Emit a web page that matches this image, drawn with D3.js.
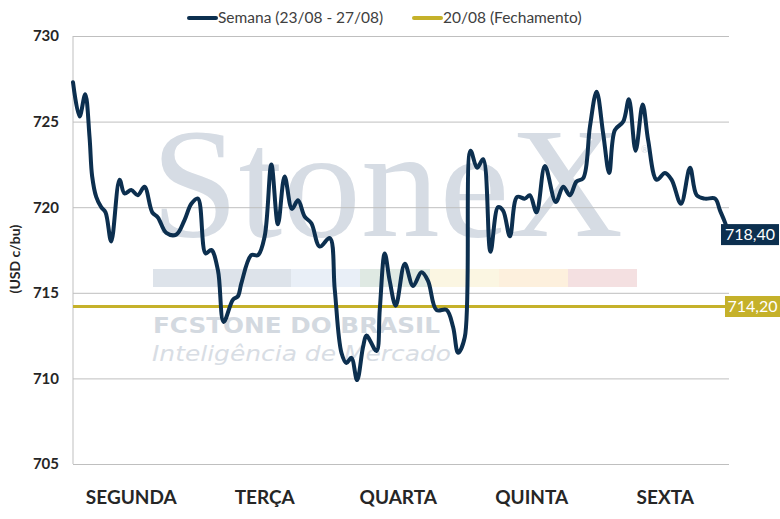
<!DOCTYPE html>
<html>
<head>
<meta charset="utf-8">
<script src="https://cdn.jsdelivr.net/npm/d3@7"></script>
<style>
  body { margin: 0; background: #fff; }
</style>
</head>
<body>
<div id="chart"></div>
<script>
// data (time in days from Monday open, price in USD c/bu)
var days = ["SEGUNDA", "TERÇA", "QUARTA", "QUINTA", "SEXTA"];
var yTicks = [705, 710, 715, 720, 725, 730];
var weekTime = [0.000, 0.050, 0.093, 0.126, 0.146, 0.177, 0.215, 0.248, 0.291, 0.355,
    0.393, 0.444, 0.494, 0.545, 0.604, 0.647, 0.711, 0.787, 0.850, 0.902,
    0.952, 1.011, 1.054, 1.105, 1.148, 1.219, 1.257, 1.283, 1.359, 1.410,
    1.461, 1.512, 1.562, 1.613, 1.669, 1.715, 1.766, 1.817, 1.880, 1.957,
    1.995, 2.046, 2.084, 2.122, 2.165, 2.211, 2.237, 2.313, 2.338, 2.376,
    2.414, 2.460, 2.529, 2.592, 2.656, 2.706, 2.770, 2.847, 2.897, 2.935,
    2.986, 3.030, 3.080, 3.126, 3.182, 3.240, 3.278, 3.330, 3.385, 3.444,
    3.482, 3.533, 3.597, 3.680, 3.736, 3.787, 3.838, 3.889, 3.940, 3.991,
    4.041, 4.087, 4.130, 4.194, 4.237, 4.288, 4.342, 4.384, 4.449, 4.512,
    4.563, 4.634, 4.703, 4.754, 4.817, 4.894, 4.932, 4.970, 5.000];
var weekPrice = [727.3, 725.3, 726.6, 724.1, 721.8, 720.6, 720.0, 719.7, 718.0, 721.6,
    720.8, 721.0, 720.7, 721.2, 719.7, 719.4, 718.5, 718.4, 719.25, 720.2,
    720.5, 717.3, 717.5, 716.3, 713.3, 714.6, 714.8, 715.55, 717.2, 717.2,
    718.3, 722.5, 719.0, 721.8, 719.9, 720.4, 719.45, 719.06, 717.7, 718.2,
    715.2, 711.5, 710.9, 711.2, 709.9, 711.85, 712.5, 711.6, 714.0, 717.3,
    715.7, 714.25, 716.7, 715.4, 716.2, 715.7, 714.0, 714.0, 713.0, 711.5,
    712.4, 723.3, 722.3, 722.8, 717.4, 720.0, 719.8, 718.3, 720.6, 720.5,
    720.7, 719.7, 722.4, 720.3, 721.2, 720.7, 721.5, 721.7, 724.7, 726.75,
    724.3, 722.0, 724.5, 725.0, 726.3, 723.3, 726.0, 723.9, 721.6, 722.0,
    721.6, 720.2, 722.3, 720.7, 720.5, 720.5, 719.8, 719.1, 718.4];
var lastPrice = 718.40;
var closePrice = 714.20;
var seriesNames = ["Semana (23/08 - 27/08)", "20/08 (Fechamento)"];

var svgWidth = 780;
var svgHeight = 519;

var margin = {
    top: 36,
    right: 51,
    bottom: 55,
    left: 73
};

var height = svgHeight - margin.top - margin.bottom;
var width = svgWidth - margin.left - margin.right;

var navy = "#0c2f4f";
var gold = "#c5b12a";
var sans = "Lato, 'Noto Sans', sans-serif";

var svg = d3.select("#chart")
    .append("svg")
    .attr("height", svgHeight)
    .attr("width", svgWidth)
    .style("font-family", sans);

// watermark
var wm = svg.append("g");
wm.append("text")
    .attr("x", 151)
    .attr("y", 236)
    .style("font-family", "'Liberation Serif', 'DejaVu Serif', serif")
    .attr("font-size", 156)
    .attr("fill", "#d6dce4")
    .attr("textLength", 472)
    .attr("lengthAdjust", "spacingAndGlyphs")
    .text("StoneX");
wm.append("text")
    .attr("x", 641)
    .attr("y", 153)
    .attr("font-size", 9)
    .attr("fill", "#d6dce4")
    .text("®");
var stripColors = ["#dde3ea", "#e9eff7", "#dfe9e3", "#fbf6e2", "#fdf0dd", "#f4e0e1"];
var stripX = [153, 291, 360, 430, 499, 568, 637];
wm.selectAll("rect")
    .data(stripColors)
    .enter()
    .append("rect")
    .attr("x", (d, i) => stripX[i])
    .attr("y", 269)
    .attr("width", (d, i) => stripX[i + 1] - stripX[i])
    .attr("height", 18)
    .attr("fill", d => d);
wm.append("text")
    .attr("x", 153)
    .attr("y", 333)
    .style("font-family", "'DejaVu Sans', sans-serif")
    .attr("font-size", 21)
    .attr("font-weight", "bold")
    .attr("fill", "#d3d9e0")
    .attr("textLength", 287)
    .attr("lengthAdjust", "spacingAndGlyphs")
    .text("FCSTONE DO BRASIL");
wm.append("text")
    .attr("x", 152)
    .attr("y", 361)
    .style("font-family", "'DejaVu Sans', sans-serif")
    .attr("font-size", 22)
    .attr("font-style", "italic")
    .attr("font-weight", 300)
    .attr("fill", "#d8dde4")
    .attr("textLength", 299)
    .attr("lengthAdjust", "spacingAndGlyphs")
    .text("Inteligência de Mercado");

var chartGroup = svg.append("g")
    .attr("transform", `translate(${margin.left}, ${margin.top})`);

var xScale = d3.scaleLinear()
    .domain([0, days.length])
    .range([0, width]);

var xBand = d3.scaleBand()
    .domain(days)
    .range([-8.5, width + 3]);

var yScale = d3.scaleLinear()
    .domain([d3.min(yTicks), d3.max(yTicks)])
    .range([height, 0]);

// gridlines
var grid = chartGroup.append("g")
    .call(d3.axisLeft(yScale).tickValues(yTicks).tickSize(-width).tickFormat(""));
grid.select(".domain").remove();
grid.selectAll("line").attr("stroke", "#bfbfbf");

chartGroup.append("line")
    .attr("x1", 0).attr("x2", 0)
    .attr("y1", 0).attr("y2", height)
    .attr("stroke", "#bfbfbf");

// y labels
var leftAxis = chartGroup.append("g")
    .call(d3.axisLeft(yScale).tickValues(yTicks).tickSize(0).tickPadding(14));
leftAxis.select(".domain").remove();
leftAxis.selectAll("text")
    .style("font-family", sans)
    .attr("font-size", 15)
    .attr("font-weight", "bold")
    .attr("fill", "#262626");

// x labels
var bottomAxis = chartGroup.append("g")
    .attr("transform", `translate(0, ${height})`)
    .call(d3.axisBottom(xBand).tickSize(0).tickPadding(27));
bottomAxis.select(".domain").remove();
bottomAxis.selectAll("text")
    .style("font-family", sans)
    .attr("font-size", 19)
    .attr("font-weight", "bold")
    .attr("fill", "#262626");

// close line
chartGroup.append("line")
    .attr("x1", 0).attr("x2", width)
    .attr("y1", yScale(closePrice)).attr("y2", yScale(closePrice))
    .attr("stroke", gold)
    .attr("stroke-width", 3);

// week line
var weekData = weekTime.map((t, i) => ({t: t, p: weekPrice[i]}));
var line = d3.line()
    .x(d => xScale(d.t))
    .y(d => yScale(d.p))
    .curve(d3.curveCatmullRom.alpha(0.5));

chartGroup.append("path")
    .datum(weekData)
    .attr("d", line)
    .attr("fill", "none")
    .attr("stroke", navy)
    .attr("stroke-width", 4)
    .attr("stroke-linejoin", "round")
    .attr("stroke-linecap", "round");

// value tags on the right
var tags = [
    {v: lastPrice, color: navy, x: 648, w: 58},
    {v: closePrice, color: gold, x: 652, w: 55}
];
tags.forEach(tag => {
    var yc = yScale(tag.v);
    chartGroup.append("rect")
        .attr("x", tag.x)
        .attr("y", yc - 10.5)
        .attr("width", tag.w)
        .attr("height", 21)
        .attr("fill", tag.color);
    chartGroup.append("text")
        .attr("x", tag.x + tag.w / 2)
        .attr("y", yc + 5.5)
        .attr("text-anchor", "middle")
        .attr("font-size", 16)
        .attr("fill", "#fff")
        .text(d3.format(".2f")(tag.v).replace(".", ","));
});

// y title
svg.append("text")
    .attr("transform", "rotate(-90)")
    .attr("x", -259)
    .attr("y", 20)
    .attr("text-anchor", "middle")
    .attr("font-size", 14)
    .attr("font-weight", "bold")
    .attr("fill", "#262626")
    .text("(USD c/bu)");

// legend
var legend = svg.append("g");
var legendX = [189, 414];
var legendColors = [navy, gold];
seriesNames.forEach((name, i) => {
    legend.append("line")
        .attr("x1", legendX[i]).attr("x2", legendX[i] + 27)
        .attr("y1", 18).attr("y2", 18)
        .attr("stroke", legendColors[i])
        .attr("stroke-width", 4)
        .attr("stroke-linecap", "round");
    legend.append("text")
        .attr("x", legendX[i] + 29)
        .attr("y", 23)
        .attr("font-size", 15.5)
        .attr("fill", "#404040")
        .text(name);
});
</script>
</body>
</html>
